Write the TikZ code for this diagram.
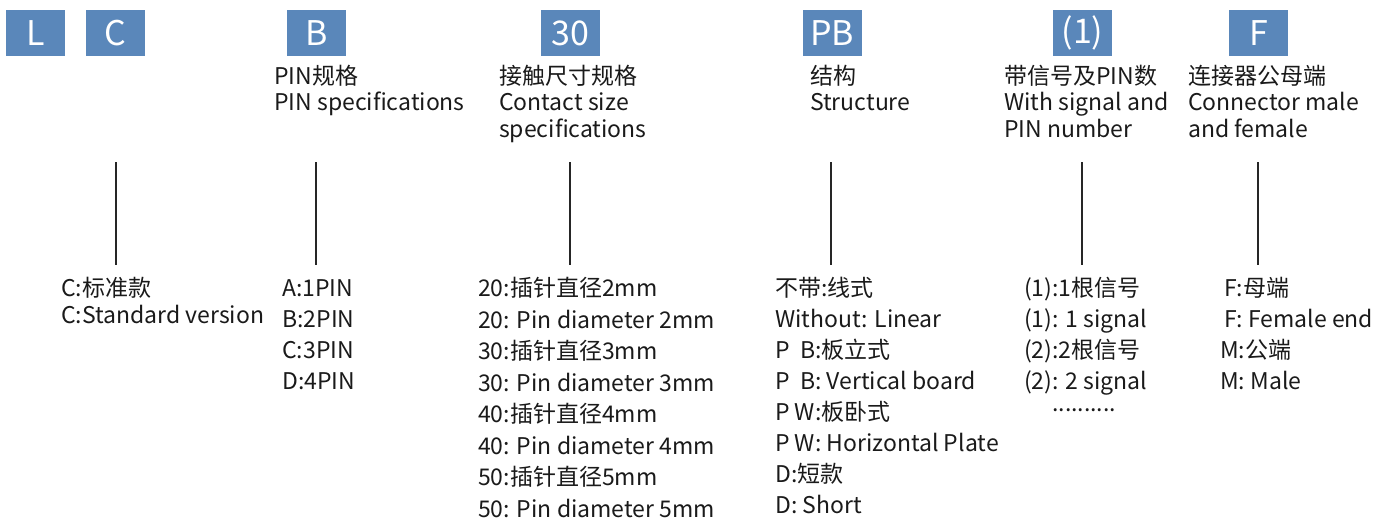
\documentclass[tikz,border=0pt]{standalone}
\usepackage{fontspec}
\setmainfont{Noto Sans CJK SC}
\definecolor{boxblue}{HTML}{5A87BA}
\definecolor{txt}{HTML}{1A1A1A}
\begin{document}
\begin{tikzpicture}[x=1pt,y=-1pt,
  codebox/.style={fill=boxblue,text=white,minimum width=59pt,minimum height=46pt,inner sep=0pt,font=\fontsize{34}{34}\selectfont},
  lbl/.style={anchor=base west,inner sep=0pt,text=txt,font=\fontsize{23}{27}\selectfont},
  conn/.style={draw=black!85,line width=1.1pt}]
\useasboundingbox (0,0) rectangle (1391,522);
% code boxes
\node[codebox] (bL) at (35.5,33) {L};
\node[codebox] (bC) at (115.5,33) {C};
\node[codebox] (bB) at (316.5,33) {B};
\node[codebox] (b30) at (570,33) {30};
\node[codebox] (bPB) at (832,33) {PB};
\node[codebox] (b1) at (1082.5,33) {(1)};
\node[codebox] (bF) at (1258.5,33) {F};
% header labels
\foreach \t [count=\i] in {PIN规格,PIN specifications}
  \node[lbl] (hB\i) at (274,{84+(\i-1)*26.5}) {\t};
\foreach \t [count=\i] in {接触尺寸规格,Contact size,specifications}
  \node[lbl] (h30\i) at (499,{84+(\i-1)*26.5}) {\t};
\foreach \t [count=\i] in {结构,Structure}
  \node[lbl] (hPB\i) at (810,{84+(\i-1)*26.5}) {\t};
\foreach \t [count=\i] in {带信号及PIN数,With signal and,PIN number}
  \node[lbl] (h1\i) at (1004,{84+(\i-1)*26.5}) {\t};
\foreach \t [count=\i] in {连接器公母端,Connector male,and female}
  \node[lbl] (hF\i) at (1188,{84+(\i-1)*26.5}) {\t};
% vertical connectors
\foreach \n/\x in {C/116,B/316,30/570,PB/831,1/1082,F/1258}{
  \coordinate (t\n) at (\x,162);
  \coordinate (e\n) at (\x,265);
  \draw[conn] (t\n) -- (e\n);
}
% lists
\foreach \t [count=\i] in {C:标准款,C:Standard version}
  \node[lbl] (lC\i) at (61,{296.5+(\i-1)*27}) {\t};
\foreach \t [count=\i] in {A:1PIN,B:2PIN,C:3PIN,D:4PIN}
  \node[lbl] (lB\i) at (282,{296.5+(\i-1)*31}) {\t};
\foreach \t [count=\i] in {20:插针直径2mm,20: Pin diameter 2mm,30:插针直径3mm,30: Pin diameter 3mm,40:插针直径4mm,40: Pin diameter 4mm,50:插针直径5mm,50: Pin diameter 5mm}
  \node[lbl] (l30\i) at (478,{296.5+(\i-1)*31.5}) {\t};
\foreach \t [count=\i] in {不带:线式,Without: Linear,P\ \ B:板立式,P\ \ B: Vertical board,P W:板卧式,P W: Horizontal Plate,D:短款,D: Short}
  \node[lbl] (lPB\i) at (775,{296.5+(\i-1)*31}) {\t};
\foreach \t [count=\i] in {(1):1根信号,(1): 1 signal,(2):2根信号,(2): 2 signal}
  \node[lbl] (l1\i) at (1024,{296.5+(\i-1)*31}) {\t};
\node[lbl] (l1dots) at (1052,411) {..........};
\foreach \t/\x [count=\i] in {F:母端/1224,F: Female end/1224,M:公端/1220,M: Male/1220}
  \node[lbl] (lF\i) at (\x,{296.5+(\i-1)*31}) {\t};
\end{tikzpicture}
\end{document}
